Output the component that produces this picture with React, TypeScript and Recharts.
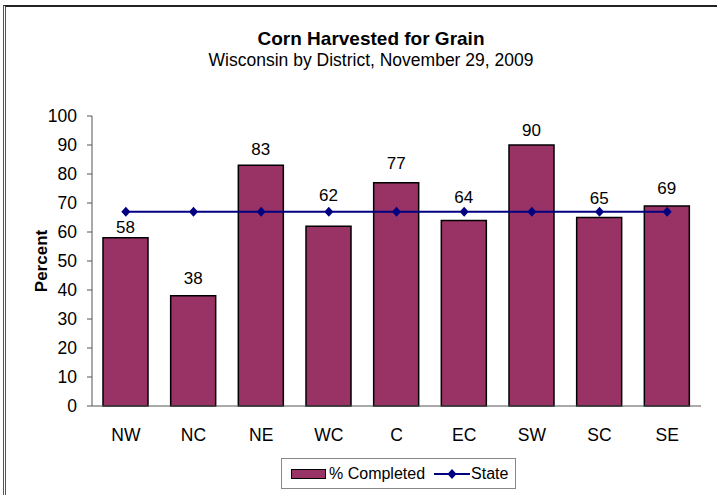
import { ComposedChart, Bar, Line, XAxis, YAxis, LabelList } from 'recharts'

const districts = ['NW', 'NC', 'NE', 'WC', 'C', 'EC', 'SW', 'SC', 'SE']
const completed = [58, 38, 83, 62, 77, 64, 90, 65, 69]
const stateAvg = [67, 67, 67, 67, 67, 67, 67, 67, 67]
const yTicks = [0, 10, 20, 30, 40, 50, 60, 70, 80, 90, 100]
const edgeTicks = [0, 1, 2, 3, 4, 5, 6, 7, 8, 9]

// how far above each bar its value label sits (labels were nudged off the State line)
const labelLift = [11, 18, 16, 31, 20, 24, 15, 20, 18]

const data = districts.map((d, i) => ({
  district: d,
  completed: completed[i],
  state: stateAvg[i],
}))

const FONT = '"Liberation Sans", Arial, sans-serif'
const BAR = '#993366'
const LINE = '#000080'
const LABEL_FS = 17

const Diamond = (props: any) => {
  const { cx, cy } = props
  if (cx == null || cy == null) return null
  return <path d={`M${cx},${cy - 5}L${cx + 4.5},${cy}L${cx},${cy + 5}L${cx - 4.5},${cy}Z`} fill={LINE} />
}

const ValueLabel = (props: any) => {
  const { x, y, width, value, index } = props
  const lift = labelLift[index] ?? 18
  return (
    <text x={x + width / 2} y={y - lift + LABEL_FS * 0.36} textAnchor="middle" fill="#000" fontSize={LABEL_FS} fontFamily={FONT}>
      {value}
    </text>
  )
}

export default function App() {
  return (
    <div style={{ position: 'absolute', left: 0, top: 0, width: 717, height: 495, background: '#fff', fontFamily: FONT }}>
      <div style={{ position: 'absolute', left: 3, top: 5, width: 714, height: 490, borderLeft: '3px double #555', borderTop: '2px solid #222' }} />
      <div style={{ position: 'absolute', left: 0, width: 742, top: 28, textAlign: 'center', fontSize: 19, fontWeight: 'bold', color: '#000' }}>
        Corn Harvested for Grain
      </div>
      <div style={{ position: 'absolute', left: 0, width: 742, top: 50, textAlign: 'center', fontSize: 17.5, color: '#000' }}>
        Wisconsin by District, November 29, 2009
      </div>
      <div style={{ position: 'absolute', left: 0, top: 0 }}>
        <ComposedChart width={717} height={495} data={data} margin={{ top: 116, right: 16, left: 0, bottom: 0 }} barSize={45}>
          <XAxis xAxisId="edges" type="number" domain={[0, 9]} ticks={edgeTicks} allowDataOverflow height={0}
            axisLine={false} tick={false} tickSize={5} tickLine={{ stroke: '#555' }} />
          <XAxis xAxisId="main" dataKey="district" height={89} tickLine={false} tickSize={0} tickMargin={23}
            axisLine={{ stroke: '#555' }} tick={{ fill: '#000', fontSize: 17.5, fontFamily: FONT }} interval={0} />
          <XAxis xAxisId="top" orientation="top" dataKey="district" height={0} tick={false} tickLine={false}
            axisLine={{ stroke: '#999' }} />
          <YAxis yAxisId="left" domain={[0, 100]} ticks={yTicks} width={92} tickSize={5} tickMargin={10}
            axisLine={{ stroke: '#555' }} tickLine={{ stroke: '#555' }} interval={0}
            tick={{ fill: '#000', fontSize: 17.5, fontFamily: FONT }}
            label={{ value: 'Percent', angle: -90, position: 'insideLeft', dx: 36, style: { fontWeight: 'bold', fontSize: 17, fill: '#000', fontFamily: FONT, textAnchor: 'middle' } }} />
          <YAxis yAxisId="right" orientation="right" domain={[0, 100]} width={0} tick={false} tickLine={false}
            axisLine={{ stroke: '#999' }} />
          <Bar xAxisId="main" yAxisId="left" dataKey="completed" name="% Completed" fill={BAR} stroke="#000" strokeWidth={1.5} isAnimationActive={false}>
            <LabelList dataKey="completed" content={<ValueLabel />} />
          </Bar>
          <Line xAxisId="main" yAxisId="left" dataKey="state" name="State" stroke={LINE} strokeWidth={2} dot={<Diamond />} activeDot={false} isAnimationActive={false} />
        </ComposedChart>
      </div>
      <div style={{ position: 'absolute', left: 281, top: 458, width: 233, height: 29, border: '1px solid #888', display: 'flex', alignItems: 'center', fontSize: 16, color: '#000' }}>
        <span style={{ display: 'inline-block', width: 33, height: 8, background: BAR, border: '1.5px solid #000', marginLeft: 9, marginRight: 3 }} />
        <span>% Completed</span>
        <svg width={36} height={12} style={{ marginLeft: 9, marginRight: 1 }}>
          <line x1={0} y1={6} x2={36} y2={6} stroke={LINE} strokeWidth={2} />
          <path d="M18,1L22.5,6L18,11L13.5,6Z" fill={LINE} />
        </svg>
        <span>State</span>
      </div>
    </div>
  )
}
